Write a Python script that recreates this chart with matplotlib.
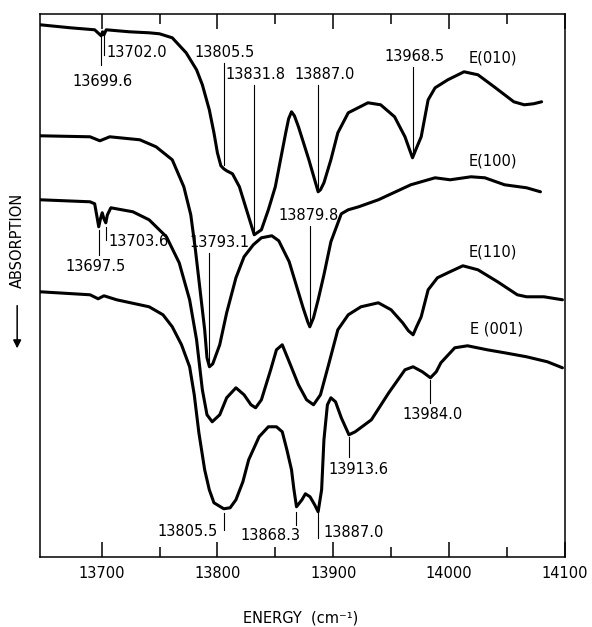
import numpy as np
import matplotlib
matplotlib.use("Agg")
import matplotlib.pyplot as plt

# energy (cm-1) and relative signal (absorption increases downward)
e010_x = [13647, 13673, 13694, 13699.6, 13700.8, 13702.0, 13704, 13724, 13741, 13750, 13761, 13773,
          13782, 13787, 13793, 13797, 13800, 13803, 13805.5, 13808, 13813, 13819, 13827, 13831.8,
          13838, 13844, 13850, 13859, 13861.5, 13864, 13866.5, 13870, 13879, 13884, 13887.0, 13889,
          13892, 13898, 13904, 13913, 13930, 13941, 13953, 13962, 13966, 13968.5, 13972, 13976,
          13982, 13988, 13999, 14013, 14025, 14039, 14056, 14065, 14073, 14080]
e010_y = [532, 529, 527, 521, 525, 522, 527, 525, 524, 523, 519, 504,
          487, 472, 447, 424, 404, 391, 388, 386, 383, 370, 340, 322,
          327, 347, 370, 424, 438, 445, 441, 430, 397, 377, 365, 367,
          374, 397, 424, 444, 454, 452, 440, 420, 407, 399, 409, 420,
          457, 469, 477, 485, 482, 470, 455, 452, 453, 455]

e100_x = [13647, 13690, 13698.5, 13707, 13733, 13747, 13761, 13771, 13777, 13781, 13785, 13789,
          13791, 13793.1, 13796, 13802, 13808, 13816, 13823, 13831, 13838, 13847, 13853, 13862,
          13868, 13874, 13878, 13879.8, 13883, 13887, 13892, 13898, 13907, 13913, 13922, 13939,
          13967, 13988, 14001, 14019, 14031, 14048, 14067, 14079]
e100_y = [421, 420, 416, 420, 417, 410, 397, 370, 342, 307, 267, 227,
          199, 190, 193, 212, 244, 279, 300, 312, 319, 321, 316, 295,
          272, 249, 235, 230, 239, 257, 282, 315, 343, 347, 350, 357,
          372, 379, 377, 380, 379, 372, 369, 365]

e110_x = [13647, 13690, 13694, 13696, 13697.5, 13699, 13700.5, 13702, 13703.6, 13705, 13708,
          13727, 13741, 13756, 13767, 13776, 13782, 13787, 13791, 13795.5, 13802, 13808, 13816,
          13823, 13829, 13833, 13838, 13846, 13851, 13856, 13862, 13870, 13877, 13883, 13889,
          13896, 13904, 13913, 13924, 13939, 13950, 13960, 13965, 13969, 13972, 13976, 13982,
          13990, 13999, 14012, 14025, 14042, 14059, 14067, 14082, 14098]
e110_y = [357, 355, 353, 340, 330, 338, 344, 338, 334, 342, 349,
          345, 337, 320, 294, 257, 217, 167, 142, 135, 142, 159, 169,
          162, 152, 149, 157, 187, 207, 212, 195, 172, 157, 152, 162,
          192, 227, 242, 250, 254, 247, 234, 226, 222, 230, 240, 267,
          279, 284, 291, 287, 275, 262, 260, 260, 257]

e001_x = [13647, 13690, 13697, 13702, 13713, 13741, 13753, 13761, 13769, 13776, 13780, 13784,
          13789, 13793, 13797, 13805.5, 13811, 13816, 13822, 13827, 13836, 13844, 13851, 13856,
          13860, 13864, 13866, 13868.3, 13873, 13876, 13880, 13884, 13887.0, 13890, 13892, 13895,
          13898, 13902, 13907, 13913.6, 13919, 13933, 13948, 13962, 13969, 13977, 13984.0, 13989,
          13993, 14005, 14016, 14033, 14048, 14067, 14085, 14098]
e001_y = [265, 262, 258, 261, 257, 250, 242, 230, 212, 190, 162, 124,
          87, 67, 54, 48, 49, 57, 75, 97, 120, 130, 130, 125,
          107, 87, 68, 50, 57, 63, 60, 52, 45, 67, 117, 152,
          159, 155, 139, 122, 125, 137, 164, 187, 190, 185, 179, 185,
          194, 209, 211, 207, 204, 200, 195, 189]

curve_names = ["E(010)", "E(100)", "E(110)", "E (001)"]
name_pos = [(14038, 499), (14038, 396), (14038, 305), (14041, 228)]

# peak labels: text, line from y0 to y1, text position, alignment
peaks = [
    ("13699.6", 522, 492, 13701, 475, "center"),
    ("13702.0", 522, 502, 13704.5, 504, "left"),
    ("13805.5", 494, 392, 13806, 504, "center"),
    ("13831.8", 472, 324, 13832.5, 482, "center"),
    ("13887.0", 472, 367, 13893, 482, "center"),
    ("13968.5", 490, 402, 13970, 500, "center"),
    ("13703.6", 330, 317, 13705.5, 315, "left"),
    ("13697.5", 327, 302, 13695, 290, "center"),
    ("13793.1", 304, 194, 13801.5, 314, "center"),
    ("13879.8", 331, 234, 13879, 341, "center"),
    ("13805.5", 44, 27, 13800, 25, "right"),
    ("13868.3", 45, 32, 13846, 21, "center"),
    ("13887.0", 44, 19, 13891.5, 24, "left"),
    ("13913.6", 120, 100, 13922, 87, "center"),
    ("13984.0", 177, 154, 13986, 142, "center"),
]

ticks = [13700, 13800, 13900, 14000, 14100]
minor_ticks = [13750, 13850, 13950, 14050]

fig = plt.figure(figsize=(5.92, 6.27), dpi=100)
ax = fig.add_axes([0.068, 0.112, 0.886, 0.866])

for x, y in [(e010_x, e010_y), (e100_x, e100_y), (e110_x, e110_y), (e001_x, e001_y)]:
    ax.plot(x, y, color="black", lw=2.2, solid_joinstyle="round", solid_capstyle="round")

for name, (tx, ty) in zip(curve_names, name_pos):
    ax.text(tx, ty, name, fontsize=10.5, ha="center", va="center")

for lab, y0, y1, tx, ty, ha in peaks:
    xv = float(lab)
    ax.plot([xv, xv], [y0, y1], color="black", lw=0.8)
    ax.text(tx, ty, lab, fontsize=10.5, ha=ha, va="center")

ax.set_xlim(13647, 14100)
ax.set_ylim(0, 543)
ax.set_yticks([])
ax.set_xticks(ticks)
ax.set_xticklabels([str(t) for t in ticks])
ax.set_xticks(minor_ticks, minor=True)
ax.tick_params(axis="x", which="both", direction="in", top=True, width=1.1, labelsize=10.5, pad=7)
ax.tick_params(axis="x", which="major", length=11)
ax.tick_params(axis="x", which="minor", length=7)
for s in ax.spines.values():
    s.set_linewidth(1.1)

fig.text(0.508, 0.015, "ENERGY  (cm\u207b\u00b9)", fontsize=10.5, ha="center", va="center")
fig.text(0.029, 0.617, "ABSORPTION", fontsize=10.5, rotation=90, ha="center", va="center")
ax.annotate("", xy=(0.029, 0.44), xytext=(0.029, 0.517), xycoords="figure fraction",
            textcoords="figure fraction",
            arrowprops=dict(arrowstyle="-|>", color="black", lw=1.1, mutation_scale=12))

fig.savefig("out.png", dpi=100)
